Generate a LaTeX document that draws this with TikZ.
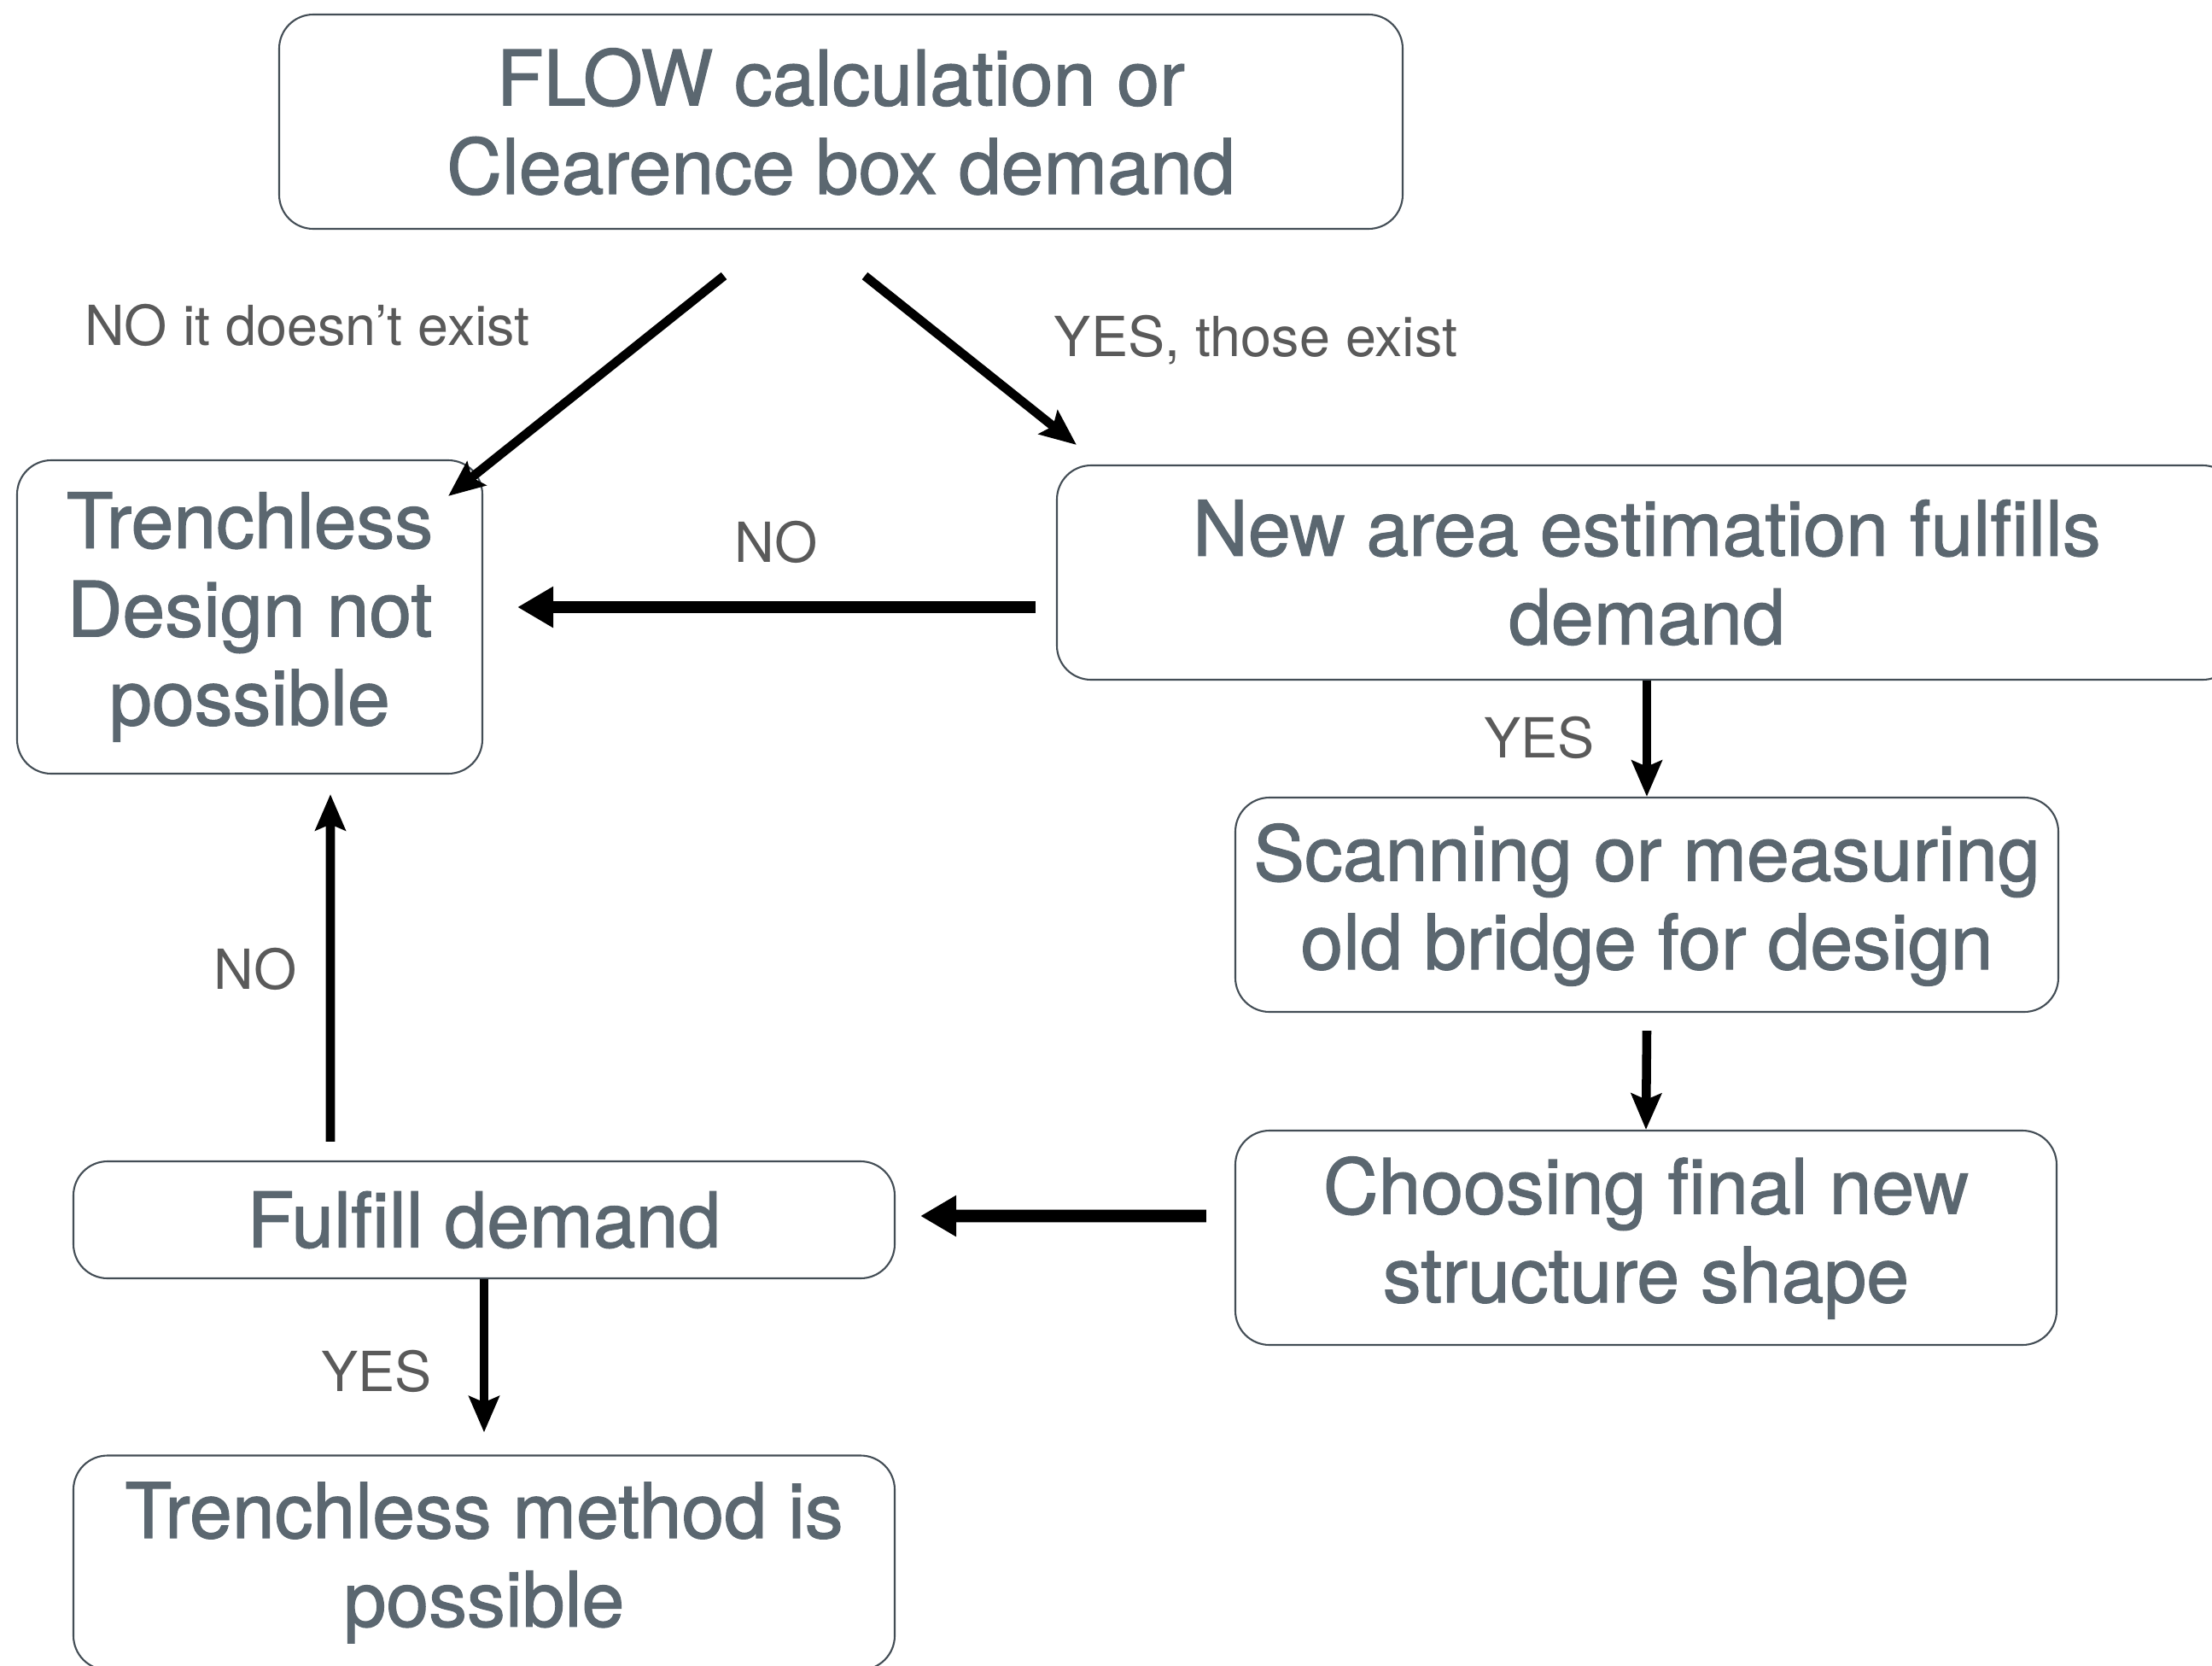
\documentclass[tikz,border=0pt]{standalone}
\usepackage{fontspec}
\setmainfont{TeX Gyre Heros}
\newfontfamily\boxfont[FakeBold=1.3]{TeX Gyre Heros}
\usetikzlibrary{arrows.meta}
\definecolor{boxtext}{HTML}{5B6770}
\definecolor{boxline}{HTML}{434D55}
\definecolor{answertext}{HTML}{5A5A5A}
\tikzstyle{stepbox} = [draw=boxline, line width=0.6pt, rounded corners=0.4cm, text=boxtext, align=center, inner sep=0pt, font=\boxfont\fontsize{25.5}{29.5}\selectfont]
\tikzstyle{answer} = [text=answertext, inner sep=0pt, font=\fontsize{18.4}{21}\selectfont]
\tikzstyle{link} = [->, line width=3pt, >={Stealth[length=12pt,width=10pt,inset=2pt]}]
\tikzstyle{biglink} = [->, line width=4.2pt, >={Triangle[length=12pt,width=13pt]}]

\begin{document}
\begin{tikzpicture}

\useasboundingbox (0,0) rectangle (25.91,-19.51);
\clip (0,0) rectangle (25.91,-19.51);

% boxes
\node[stepbox, minimum width=13.16cm, minimum height=2.51cm] (top) at (9.85,-1.425) {FLOW calculation or\\Clearence box demand};
\node[stepbox, minimum width=5.45cm, minimum height=3.67cm] (notposs) at (2.925,-7.225) {Trenchless\\Design not\\possible};
\node[stepbox, minimum width=13.82cm, minimum height=2.51cm] (newarea) at (19.29,-6.705) {New area estimation fulfills\\demand};
\node[stepbox, minimum width=9.64cm, minimum height=2.51cm] (scan) at (19.29,-10.595) {Scanning or measuring\\old bridge for design};
\node[stepbox, minimum width=9.62cm, minimum height=2.51cm] (choose) at (19.28,-14.495) {Choosing final new\\structure shape};
\node[stepbox, minimum width=9.62cm, minimum height=1.37cm] (fulfill) at (5.67,-14.285) {Fulfill demand};
\node[stepbox, minimum width=9.62cm, minimum height=2.51cm] (method) at (5.67,-18.30) {Trenchless method is\\possible};

% answers
\node[answer] (noexist) at (3.60,-3.81) {NO it doesn’t exist};
\node[answer] (yesexist) at (14.71,-3.98) {YES, those exist};
\node[answer] (noarea) at (9.09,-6.35) {NO};
\node[answer] (yesarea) at (18.03,-8.64) {YES};
\node[answer] (nofulfill) at (2.99,-11.35) {NO};
\node[answer] (yesfulfill) at (4.41,-16.06) {YES};

\path[link]
  ([xshift=-1.37cm,yshift=-0.54cm]top.south) edge ([xshift=-0.41cm,yshift=-0.43cm]notposs.north east)
  ([xshift=0.28cm,yshift=-0.54cm]top.south) edge ([xshift=0.24cm,yshift=0.23cm]newarea.north west)
  (newarea.south) edge (scan.north)
  ([yshift=-0.21cm]scan.south) edge (choose.north)
  ([xshift=-1.80cm,yshift=0.22cm]fulfill.north) edge ([xshift=0.945cm,yshift=-0.23cm]notposs.south)
  (fulfill.south) edge ([yshift=0.26cm]method.north);

\path[biglink]
  ([xshift=-0.24cm,yshift=-0.405cm]newarea.west) edge ([xshift=0.40cm,yshift=0.115cm]notposs.east)
  ([xshift=-0.33cm,yshift=0.255cm]choose.west) edge ([xshift=0.29cm,yshift=0.045cm]fulfill.east);

\end{tikzpicture}
\end{document}
